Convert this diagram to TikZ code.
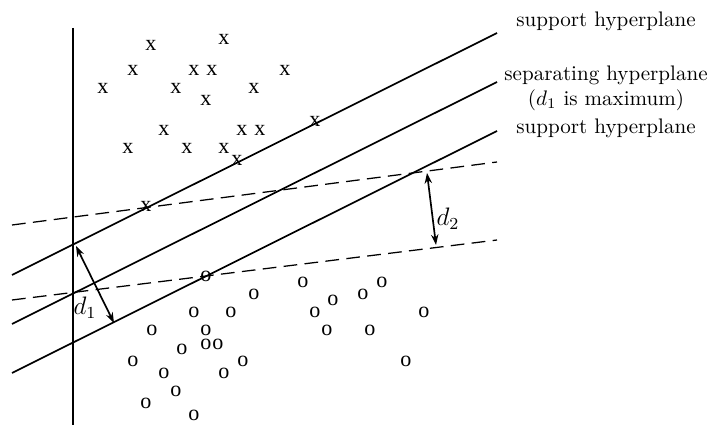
\documentclass[tikz,border=0pt]{standalone}
\usepackage{amsmath,amssymb}
\usepackage{fontspec}
\usepackage{tikz}
\usetikzlibrary{arrows.meta,positioning,calc}
\newfontfamily\markfont{Liberation Serif}

\begin{document}
\begin{tikzpicture}[x=0.0167cm,y=-0.0167cm,
  plane/.style={thick},
  margin/.style={semithick,dash pattern=on 6.5pt off 3.5pt},
  dist/.style={thick,{Stealth[length=5pt,width=3.5pt]}-{Stealth[length=5pt,width=3.5pt]}},
  sample/.style={font=\markfont\fontsize{10.5}{12}\selectfont,inner sep=0pt}]
\useasboundingbox (0,0) rectangle (710,425);
\draw[plane] (73,28)--(73,425);
\draw[plane] (12,275)--(497,33);
\draw[plane] (12,324)--(497,82);
\draw[plane] (12,373)--(497,131);
\draw[margin] (12,225)--(497,162);
\draw[margin] (12,300)--(497,240);
\foreach \px/\py [count=\i] in {151/45,224/39,133/70,194/70,212/70,285/70,103/88,176/88,254/88,206/100,
  164/130,242/130,260/130,315/121,128/148,187/148,224/148,237/160,146/206}
  \node[sample] (x\i) at (\px,\py) {x};
\foreach \px/\py [count=\i] in {206/276,303/282,382/282,254/294,363/294,333/300,194/312,231/312,315/312,424/312,
  152/330,206/330,327/330,370/330,206/344,218/344,182/349,133/361,243/361,406/361,
  164/373,224/373,176/391,146/403,194/415}
  \node[sample] (o\i) at (\px,\py) {o};
\coordinate (d1top) at (76,246);
\coordinate (d1bot) at (114,323);
\coordinate (d2top) at (427,173);
\coordinate (d2bot) at (436,245);
\draw[dist] (d1top)--(d1bot);
\draw[dist] (d2top)--(d2bot);
\node[font=\large] (d1lab) at (85,308) {$d_1$};
\node[font=\large] (d2lab) at (448,219) {$d_2$};
\node (sup1) at (606,21) {support hyperplane};
\node[align=center] (sep) at (606,88) {separating hyperplane\\($d_1$ is maximum)};
\node (sup2) at (606,128) {support hyperplane};
\end{tikzpicture}
\end{document}
